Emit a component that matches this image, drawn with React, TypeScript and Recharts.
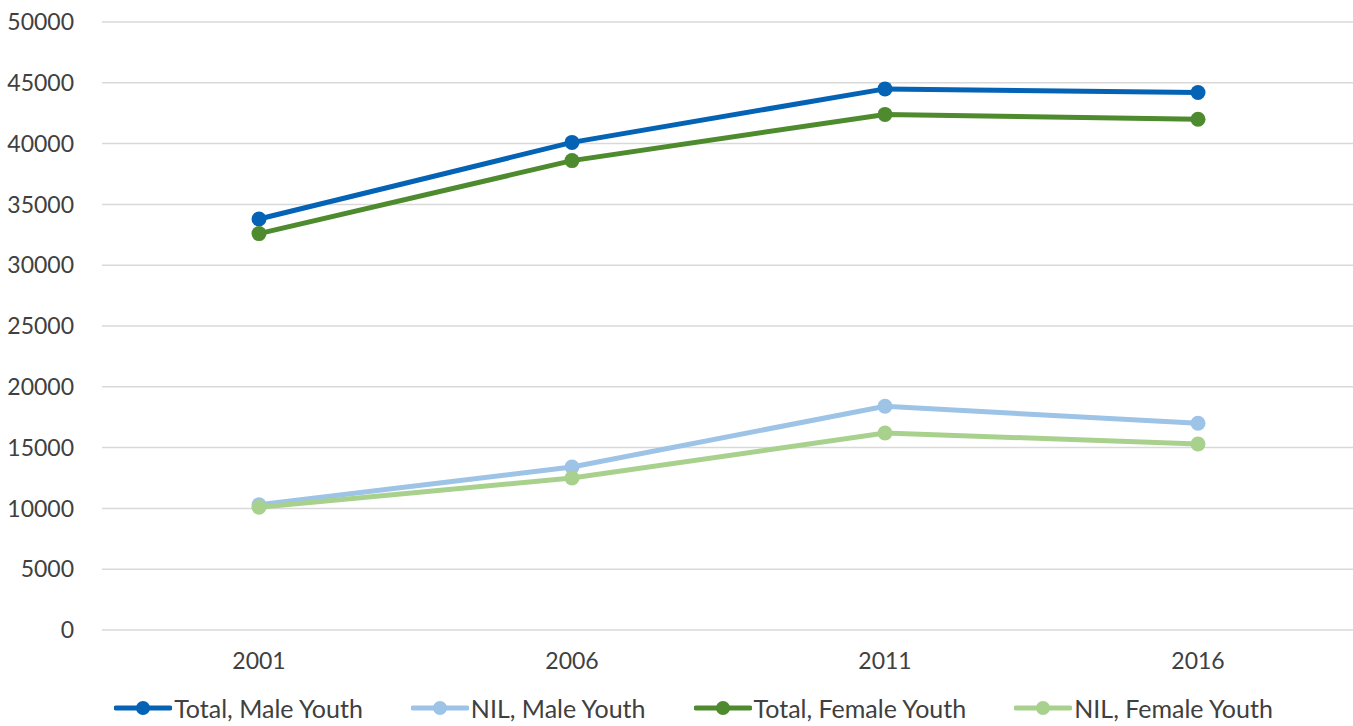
import { CartesianGrid, Legend, Line, LineChart, XAxis, YAxis } from "recharts"

const years = ["2001", "2006", "2011", "2016"]
const totalMale = [33800, 40100, 44500, 44200]
const nilMale = [10300, 13400, 18400, 17000]
const totalFemale = [32600, 38600, 42400, 42000]
const nilFemale = [10100, 12500, 16200, 15300]
const yTicks = [0, 5000, 10000, 15000, 20000, 25000, 30000, 35000, 40000, 45000, 50000]

const SERIES = [
    { key: "totalMale", name: "Total, Male Youth", color: "#0563b5" },
    { key: "nilMale", name: "NIL, Male Youth", color: "#9dc3e6" },
    { key: "totalFemale", name: "Total, Female Youth", color: "#4e8a2e" },
    { key: "nilFemale", name: "NIL, Female Youth", color: "#a9d18e" },
]

const data = years.map((year, i) => ({
    year,
    totalMale: totalMale[i],
    nilMale: nilMale[i],
    totalFemale: totalFemale[i],
    nilFemale: nilFemale[i],
}))

const FONT = "Lato, 'Noto Sans', sans-serif"
const TEXT = "#404040"

function ChartLegend() {
    return (
        <div style={{ display: "flex", justifyContent: "center", paddingLeft: 34, paddingTop: 5, fontFamily: FONT, fontSize: 25, lineHeight: "30px", color: TEXT, whiteSpace: "nowrap" }}>
            {SERIES.map((s, i) => (
                <div key={s.key} style={{ display: "flex", alignItems: "center", marginLeft: i === 0 ? 0 : 48 }}>
                    <svg width={58} height={16} style={{ marginRight: 2 }}>
                        <line x1={2} y1={8} x2={56} y2={8} stroke={s.color} strokeWidth={5} strokeLinecap="round" />
                        <circle cx={29} cy={8} r={7} fill={s.color} />
                    </svg>
                    <span>{s.name}</span>
                </div>
            ))}
        </div>
    )
}

export default function App() {
    return (
        <div style={{ position: "absolute", left: 0, top: 0, background: "#fff", overflow: "hidden", width: 1353, height: 726 }}>
            <LineChart width={1353} height={726} data={data} margin={{ top: 22, right: 0, left: 0, bottom: 0 }}>
                <CartesianGrid vertical={false} stroke="#d9d9d9" strokeWidth={1.5} />
                <XAxis
                    dataKey="year"
                    axisLine={false}
                    tickLine={false}
                    padding={{ left: 157, right: 155 }}
                    tick={{ fill: TEXT, fontSize: 23, fontFamily: FONT }}
                    tickMargin={17}
                    height={58}
                />
                <YAxis
                    domain={[0, 50000]}
                    ticks={yTicks}
                    width={102}
                    axisLine={false}
                    tickLine={false}
                    tick={{ fill: TEXT, fontSize: 23, fontFamily: FONT }}
                    tickMargin={22}
                />
                <Legend verticalAlign="bottom" height={38} content={() => <ChartLegend />} />
                {SERIES.map((s) => (
                    <Line
                        key={s.key}
                        dataKey={s.key}
                        name={s.name}
                        stroke={s.color}
                        strokeWidth={5}
                        dot={{ r: 7.5, fill: s.color, stroke: s.color, strokeWidth: 0 }}
                        activeDot={false}
                        isAnimationActive={false}
                    />
                ))}
            </LineChart>
        </div>
    )
}
